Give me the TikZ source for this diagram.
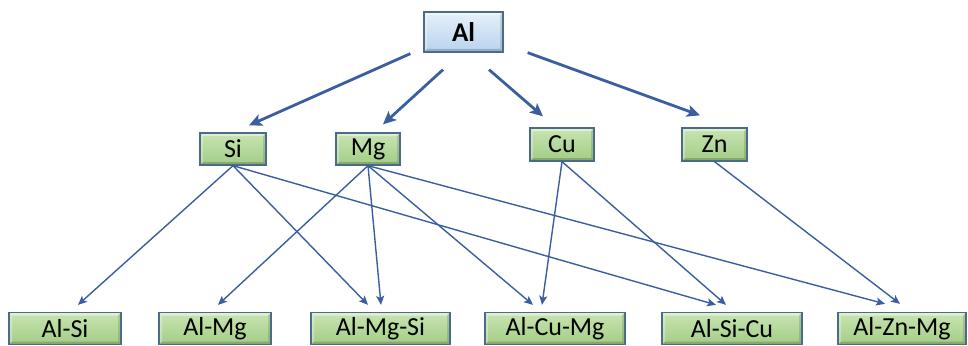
\documentclass[tikz,border=0pt]{standalone}
\usepackage{fontspec}
\setmainfont{Carlito}
\usetikzlibrary{arrows.meta,calc}

\definecolor{boxedge}{HTML}{4A6B8A}
\definecolor{greentop}{HTML}{C8E4B2}
\definecolor{greenbot}{HTML}{A2CD85}
\definecolor{bluetop}{HTML}{E6F0FA}
\definecolor{bluebot}{HTML}{B9D3EE}
\definecolor{arrowblue}{HTML}{3A5EA0}

\tikzset{
  % raised-panel look: light bands top/left, dark bands bottom/right
  bevel/.style={path picture={
    \fill[white,opacity=0.45]
      (path picture bounding box.north west) -- (path picture bounding box.north east)
      -- ([xshift=-3pt,yshift=-3pt]path picture bounding box.north east)
      -- ([xshift=3pt,yshift=-3pt]path picture bounding box.north west) -- cycle;
    \fill[white,opacity=0.3]
      (path picture bounding box.north west) -- (path picture bounding box.south west)
      -- ([xshift=3pt,yshift=3pt]path picture bounding box.south west)
      -- ([xshift=3pt,yshift=-3pt]path picture bounding box.north west) -- cycle;
    \fill[black,opacity=0.18]
      (path picture bounding box.south west) -- (path picture bounding box.south east)
      -- ([xshift=-3pt,yshift=3pt]path picture bounding box.south east)
      -- ([xshift=3pt,yshift=3pt]path picture bounding box.south west) -- cycle;
    \fill[black,opacity=0.12]
      (path picture bounding box.north east) -- (path picture bounding box.south east)
      -- ([xshift=-3pt,yshift=3pt]path picture bounding box.south east)
      -- ([xshift=-3pt,yshift=-3pt]path picture bounding box.north east) -- cycle;
  }},
  elem/.style={bevel, draw=boxedge, line width=1.3pt, top color=greentop,
    bottom color=greenbot, inner sep=0pt, minimum height=32pt,
    font=\fontsize{26}{28}\selectfont, text=black},
  basebox/.style={bevel, draw=boxedge, line width=1.3pt, top color=bluetop,
    bottom color=bluebot, inner sep=0pt, minimum width=79pt, minimum height=40pt,
    font=\bfseries\fontsize{27}{30}\selectfont, text=black},
  bigarrow/.style={draw=arrowblue, line width=2.8pt,
    -{Stealth[length=13pt,width=12pt,inset=3pt]}},
  thinarrow/.style={draw=arrowblue, line width=1.4pt,
    -{Stealth[length=9pt,width=8pt,inset=2pt]}}
}

\begin{document}
\begin{tikzpicture}[x=1pt,y=-1pt]
\useasboundingbox (0,0) rectangle (968,345);

% base metal
\node[basebox] (Al) at (463.5,32) {Al};

% alloying elements
\node[elem, minimum width=66pt] (Si) at (233,149) {Si};
\node[elem, minimum width=64pt] (Mg) at (368,149) {Mg};
\node[elem, minimum width=64pt, minimum height=33pt] (Cu) at (562,144.5) {Cu};
\node[elem, minimum width=65pt, minimum height=33pt] (Zn) at (714.5,144.5) {Zn};

% alloy systems
\node[elem, minimum width=112pt] (AlSi)   at (65,328.5)  {Al-Si};
\node[elem, minimum width=112pt] (AlMg)   at (215,328.5) {Al-Mg};
\node[elem, minimum width=139pt] (AlMgSi) at (380.5,328.5) {Al-Mg-Si};
\node[elem, minimum width=140pt] (AlCuMg) at (555,328.5) {Al-Cu-Mg};
\node[elem, minimum width=140pt] (AlSiCu) at (732,328.5) {Al-Si-Cu};
\node[elem, minimum width=128pt] (AlZnMg) at (902,328.5) {Al-Zn-Mg};

% Al to the elements
\draw[bigarrow] ($(Al.south west)+(-13,1)$) -- ($(Si.north)+(16,-7)$);
\draw[bigarrow] ($(Al.south)+(-20.5,17)$) -- ($(Mg.north)+(15,-8)$);
\draw[bigarrow] ($(Al.south)+(25.5,17)$) -- ($(Cu.north)+(-19,-11)$);
\draw[bigarrow] ($(Al.south east)+(24,0)$) -- ($(Zn.north)+(-14.5,-12)$);

% elements to alloy systems
\draw[thinarrow] (Si.south) -- ($(AlSi.north)+(13,-7)$);
\draw[thinarrow] (Si.south) -- ($(AlMgSi.north)+(-12.5,-7)$);
\draw[thinarrow] (Si.south) -- ($(AlSiCu.north)+(-16,-7)$);
\draw[thinarrow] (Mg.south) -- ($(AlMg.north)+(3,-7)$);
\draw[thinarrow] (Mg.south) -- ($(AlMgSi.north)+(0.5,-7)$);
\draw[thinarrow] (Mg.south) -- ($(AlCuMg.north)+(-22,-7)$);
\draw[thinarrow] (Mg.south) -- ($(AlZnMg.north)+(-17,-8)$);
\draw[thinarrow] (Cu.south) -- ($(AlCuMg.north)+(-13,-7)$);
\draw[thinarrow] (Cu.south) -- ($(AlSiCu.north)+(-6,-7)$);
\draw[thinarrow] (Zn.south) -- ($(AlZnMg.north)+(-2,-8)$);
\end{tikzpicture}
\end{document}
